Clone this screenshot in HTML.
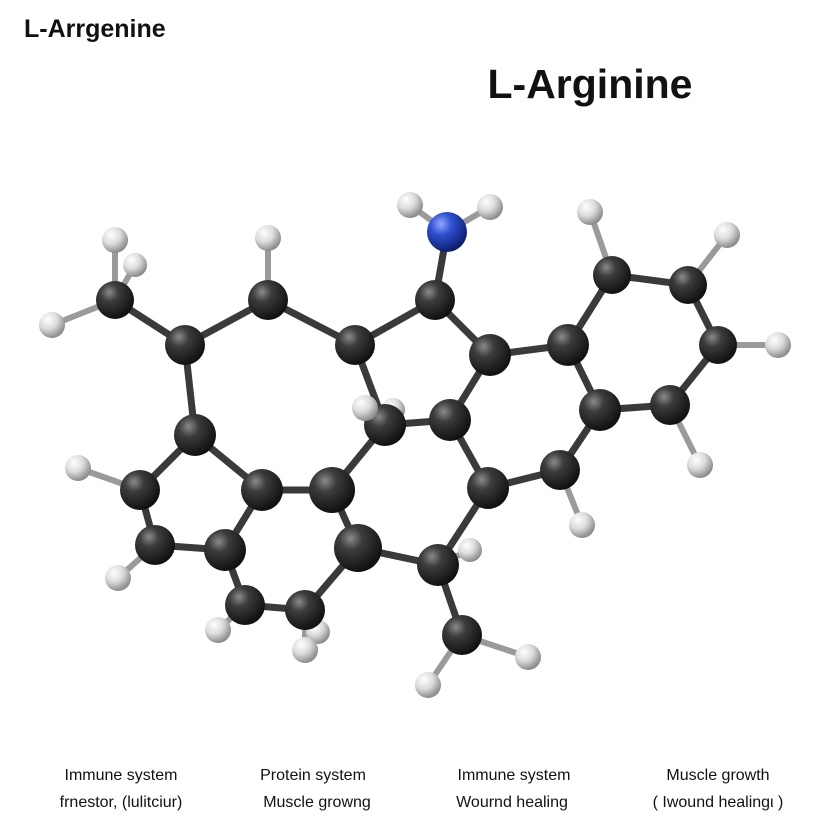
<!DOCTYPE html>
<html><head><meta charset="utf-8"><style>
html,body{margin:0;padding:0;background:#fff;}
svg{display:block;font-family:"Liberation Sans",sans-serif;}
</style></head><body>
<svg width="828" height="828" viewBox="0 0 828 828" xmlns="http://www.w3.org/2000/svg">
<defs>
<radialGradient id="gc" cx="35%" cy="30%" r="70%"><stop offset="0" stop-color="#8a8a8a"/><stop offset="0.35" stop-color="#3c3c3c"/><stop offset="1" stop-color="#111"/></radialGradient>
<radialGradient id="gh" cx="35%" cy="30%" r="70%"><stop offset="0" stop-color="#ffffff"/><stop offset="0.5" stop-color="#dcdcdc"/><stop offset="1" stop-color="#8c8c8c"/></radialGradient>
<radialGradient id="gn" cx="35%" cy="30%" r="70%"><stop offset="0" stop-color="#8fa6ff"/><stop offset="0.4" stop-color="#2f4fcf"/><stop offset="1" stop-color="#0d1f70"/></radialGradient>
<linearGradient id="gb" x1="0" y1="0" x2="0" y2="1"><stop offset="0" stop-color="#555"/><stop offset="1" stop-color="#333"/></linearGradient>
</defs>
<text x="24" y="37" font-size="25" font-weight="bold" fill="#111">L-Arrgenine</text>
<text x="590" y="98" font-size="41" font-weight="bold" fill="#111" text-anchor="middle">L-Arginine</text>
<g stroke="#3a3a3a" stroke-width="7" stroke-linecap="round" fill="none">
<!-- H bonds lighter -->
<g stroke="#9a9a9a" stroke-width="6">
<line x1="115" y1="300" x2="115" y2="240"/><line x1="115" y1="300" x2="135" y2="265"/><line x1="115" y1="300" x2="52" y2="325"/>
<line x1="268" y1="300" x2="268" y2="238"/><line x1="447" y1="232" x2="410" y2="205"/><line x1="447" y1="232" x2="490" y2="207"/>
<line x1="612" y1="275" x2="590" y2="212"/><line x1="688" y1="285" x2="727" y2="235"/><line x1="718" y1="345" x2="778" y2="345"/>
<line x1="670" y1="405" x2="700" y2="465"/><line x1="560" y1="470" x2="582" y2="525"/><line x1="385" y1="425" x2="365" y2="408"/>
<line x1="385" y1="425" x2="393" y2="410"/><line x1="140" y1="490" x2="78" y2="468"/><line x1="155" y1="545" x2="118" y2="578"/>
<line x1="245" y1="605" x2="218" y2="630"/><line x1="305" y1="610" x2="305" y2="650"/><line x1="305" y1="610" x2="318" y2="632"/>
<line x1="438" y1="565" x2="470" y2="550"/><line x1="462" y1="635" x2="428" y2="685"/><line x1="462" y1="635" x2="528" y2="657"/>
</g>
<line x1="115" y1="300" x2="185" y2="345"/><line x1="185" y1="345" x2="268" y2="300"/><line x1="268" y1="300" x2="355" y2="345"/>
<line x1="355" y1="345" x2="435" y2="300"/><line x1="435" y1="300" x2="447" y2="232"/><line x1="435" y1="300" x2="490" y2="355"/>
<line x1="490" y1="355" x2="568" y2="345"/><line x1="568" y1="345" x2="612" y2="275"/><line x1="612" y1="275" x2="688" y2="285"/>
<line x1="688" y1="285" x2="718" y2="345"/><line x1="718" y1="345" x2="670" y2="405"/><line x1="670" y1="405" x2="600" y2="410"/>
<line x1="600" y1="410" x2="568" y2="345"/><line x1="600" y1="410" x2="560" y2="470"/><line x1="560" y1="470" x2="488" y2="488"/>
<line x1="488" y1="488" x2="450" y2="420"/><line x1="450" y1="420" x2="490" y2="355"/><line x1="450" y1="420" x2="385" y2="425"/>
<line x1="385" y1="425" x2="355" y2="345"/><line x1="385" y1="425" x2="332" y2="490"/><line x1="185" y1="345" x2="195" y2="435"/>
<line x1="195" y1="435" x2="140" y2="490"/><line x1="140" y1="490" x2="155" y2="545"/><line x1="155" y1="545" x2="225" y2="550"/>
<line x1="225" y1="550" x2="262" y2="490"/><line x1="262" y1="490" x2="195" y2="435"/><line x1="262" y1="490" x2="332" y2="490"/>
<line x1="332" y1="490" x2="358" y2="548"/><line x1="358" y1="548" x2="438" y2="565"/><line x1="438" y1="565" x2="488" y2="488"/>
<line x1="438" y1="565" x2="462" y2="635"/><line x1="358" y1="548" x2="305" y2="610"/><line x1="305" y1="610" x2="245" y2="605"/>
<line x1="245" y1="605" x2="225" y2="550"/>
</g>
<g fill="url(#gh)">
<circle cx="135" cy="265" r="12"/><circle cx="115" cy="240" r="13"/><circle cx="52" cy="325" r="13"/><circle cx="268" cy="238" r="13"/>
<circle cx="410" cy="205" r="13"/><circle cx="490" cy="207" r="13"/><circle cx="590" cy="212" r="13"/><circle cx="727" cy="235" r="13"/>
<circle cx="778" cy="345" r="13"/><circle cx="700" cy="465" r="13"/><circle cx="582" cy="525" r="13"/><circle cx="393" cy="410" r="12"/>
<circle cx="78" cy="468" r="13"/><circle cx="118" cy="578" r="13"/><circle cx="218" cy="630" r="13"/><circle cx="318" cy="632" r="12"/>
<circle cx="470" cy="550" r="12"/><circle cx="428" cy="685" r="13"/><circle cx="528" cy="657" r="13"/>
</g>
<g fill="url(#gc)">
<circle cx="115" cy="300" r="19"/><circle cx="185" cy="345" r="20"/><circle cx="268" cy="300" r="20"/><circle cx="355" cy="345" r="20"/>
<circle cx="435" cy="300" r="20"/><circle cx="490" cy="355" r="21"/><circle cx="568" cy="345" r="21"/><circle cx="612" cy="275" r="19"/>
<circle cx="688" cy="285" r="19"/><circle cx="718" cy="345" r="19"/><circle cx="670" cy="405" r="20"/><circle cx="600" cy="410" r="21"/>
<circle cx="560" cy="470" r="20"/><circle cx="488" cy="488" r="21"/><circle cx="450" cy="420" r="21"/><circle cx="385" cy="425" r="21"/>
<circle cx="195" cy="435" r="21"/><circle cx="140" cy="490" r="20"/><circle cx="155" cy="545" r="20"/><circle cx="225" cy="550" r="21"/>
<circle cx="262" cy="490" r="21"/><circle cx="332" cy="490" r="23"/><circle cx="358" cy="548" r="24"/><circle cx="438" cy="565" r="21"/>
<circle cx="462" cy="635" r="20"/><circle cx="245" cy="605" r="20"/><circle cx="305" cy="610" r="20"/>
</g>
<circle cx="447" cy="232" r="20" fill="url(#gn)"/>
<g fill="url(#gh)"><circle cx="365" cy="408" r="13"/><circle cx="305" cy="650" r="13"/></g>
<g font-size="16" fill="#111" text-anchor="middle">
<text x="121" y="780">Immune system</text><text x="121" y="807">frnestor, (lulitciur)</text>
<text x="313" y="780">Protein system</text><text x="317" y="807">Muscle growng</text>
<text x="514" y="780">Immune system</text><text x="512" y="807">Wournd healing</text>
<text x="718" y="780">Muscle growth</text><text x="718" y="807">( Iwound healingι )</text>
</g>
</svg>
</body></html>
